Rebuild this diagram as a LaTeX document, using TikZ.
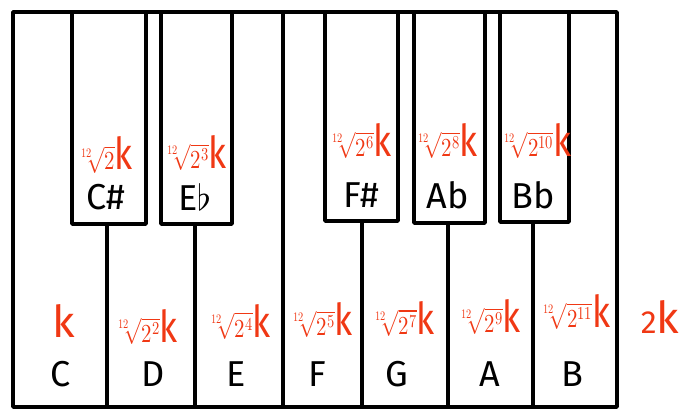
\documentclass[tikz,border=0pt]{standalone}
\usepackage{graphicx}
\usepackage{fontspec}
\usepackage{unicode-math}
\setmainfont{Fira Sans}
\setmathfont{Latin Modern Math}
\definecolor{notered}{RGB}{240,56,20}
\newcommand{\bigk}{{\fontsize{44}{44}\selectfont k}}
\newcommand{\fq}[1]{\scalebox{0.8}[1]{$\sqrt[12]{#1}$\bigk}}
\begin{document}
\begin{tikzpicture}[x=1pt,y=-1pt,line width=3.5pt,line join=round,
    keyname/.style={font=\fontsize{36}{40}\selectfont},
    freq/.style={text=notered,inner sep=0pt,font=\fontsize{26}{30}\selectfont}]
    \useasboundingbox (0,0) rectangle (697,420);
    \draw (13,12) rectangle (617,407);
    \draw (283,12)--(283,407); % E|F
    \foreach \x in {107,195,362,448,533} \draw (\x,222)--(\x,407);
    % black keys
    \draw [fill=white] (72,12) rectangle (146,224);  % C#
    \draw [fill=white] (161,12) rectangle (232,224); % Eb
    \draw [fill=white] (325,12) rectangle (398,221); % F#
    \draw [fill=white] (414,12) rectangle (485,223); % Ab
    \draw [fill=white] (500,12) rectangle (569,222); % Bb
    % note names
    \node [keyname] (c) at (61,374) {C};
    \node [keyname] (d) at (153,374) {D};
    \node [keyname] (e) at (236,374) {E};
    \node [keyname] (f) at (317,374) {F};
    \node [keyname] (g) at (397,374) {G};
    \node [keyname] (a) at (490,374) {A};
    \node [keyname] (b) at (572,374) {B};
    \node [keyname] (cs) at (106,197) {C\#};
    \node [keyname] (eb) at (195,197) {E$\flat$};
    \node [keyname] (fs) at (361,195) {F\#};
    \node [keyname] (ab) at (448,195) {Ab};
    \node [keyname] (bb) at (533,195) {Bb};
    % frequencies
    \node [freq] (fc) at (64,321) {\bigk};
    \node [freq] (fcs) at (106,155) {\fq{2}};
    \node [freq] (fd) at (147,327) {\fq{2^{2}}};
    \node [freq] (feb) at (196,153) {\fq{2^{3}}};
    \node [freq] (fe) at (240,322) {\fq{2^{4}}};
    \node [freq] (ff) at (322,320) {\fq{2^{5}}};
    \node [freq] (ffs) at (361,141) {\fq{2^{6}}};
    \node [freq] (fg) at (404,319) {\fq{2^{7}}};
    \node [freq] (fab) at (447,141) {\fq{2^{8}}};
    \node [freq] (fa) at (490,317) {\fq{2^{9}}};
    \node [freq] (fbb) at (537,141) {\fq{2^{10}}};
    \node [freq] (fb) at (576,312) {\fq{2^{11}}};
    \node [freq] (f2c) at (660,317) {{\fontsize{32}{32}\selectfont 2}\bigk};
\end{tikzpicture}
\end{document}
